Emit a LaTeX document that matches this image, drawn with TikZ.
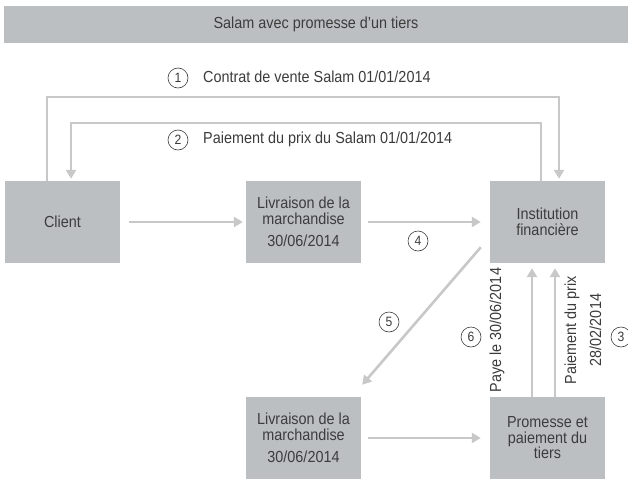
\documentclass[tikz,border=0pt]{standalone}
\usepackage{fontspec}
\setmainfont{Liberation Sans}[FakeStretch=0.9]
\usetikzlibrary{arrows.meta,calc}
\definecolor{boxgray}{RGB}{188,191,194}
\definecolor{arrgray}{RGB}{200,200,200}
\definecolor{txtgray}{RGB}{60,60,60}
\tikzset{
  box/.style={fill=boxgray, minimum width=115pt, minimum height=82pt, inner sep=0pt,
    align=center, text=txtgray, font=\fontsize{16}{15.5}\selectfont},
  arr/.style={draw=arrgray, line width=2.6pt, -{Triangle[length=9pt,width=10pt]}},
  num/.style={circle, draw=txtgray, line width=0.6pt, minimum size=20pt, inner sep=0pt,
    text=txtgray, font=\fontsize{13.5}{15}\selectfont},
  lbl/.style={text=txtgray, font=\fontsize{16}{16}\selectfont, inner sep=0pt},
}
\begin{document}
\begin{tikzpicture}[x=1pt,y=-1pt]
\useasboundingbox (0,0) rectangle (628,479);
\fill[white] (0,0) rectangle (628,479);
% title
\node[box, minimum width=624pt, minimum height=37pt, font=\fontsize{16}{16}\selectfont] (title) at (316,24.5) {Salam avec promesse d'un tiers};
% boxes
\node[box] (client) at (62.5,222) {Client};
\node[box] (liv1) at (303.5,222) {Livraison de la\\marchandise\\[7pt]30/06/2014};
\node[box] (inst) at (547.5,222) {Institution\\financière};
\node[box] (liv2) at (303.5,438) {Livraison de la\\marchandise\\[7pt]30/06/2014};
\node[box] (prom) at (547.5,438) {Promesse et\\paiement du\\tiers};
% corner coordinates
\coordinate (c1a) at (47,97);
\coordinate (c1b) at (559,97);
\coordinate (c2a) at (541,123);
\coordinate (c2b) at (71,123);
% arrows
\draw[arr] (client.north -| c1a) -- (c1a) -- (c1b) -- ([yshift=2pt]inst.north -| c1b);
\draw[arr] (inst.north -| c2a) -- (c2a) -- (c2b) -- ([yshift=2pt]client.north -| c2b);
\draw[arr] ([xshift=9pt]client.east) -- ([xshift=-3pt]liv1.west);
\draw[arr] ([xshift=7pt]liv1.east) -- ([xshift=-9pt]inst.west);
\draw[arr] ([xshift=-9pt,yshift=16pt]inst.south west) -- ([xshift=1pt,yshift=12pt]liv2.north east);
\draw[arr] ([xshift=7pt]liv2.east) -- ([xshift=-9pt]prom.west);
\draw[arr] ([xshift=-15.5pt]prom.north) -- ([xshift=-15.5pt,yshift=-5pt]inst.south);
\draw[arr] ([xshift=7.5pt]prom.north) -- ([xshift=7.5pt,yshift=-5pt]inst.south);
% numbers and labels
\node[num] (n1) at (178,78) {1};
\node[lbl, anchor=west] (l1) at (203,77) {Contrat de vente Salam 01/01/2014};
\node[num] (n2) at (178,140) {2};
\node[lbl, anchor=west] (l2) at (203,139) {Paiement du prix du Salam 01/01/2014};
\node[num] (n4) at (418,241) {4};
\node[num] (n5) at (389,322) {5};
\node[num] (n6) at (471,337) {6};
\node[num] (n3) at (621,337) {3};
\node[lbl, rotate=90] (l6) at (497,330) {Paye le 30/06/2014};
\node[lbl, rotate=90, align=center, font=\fontsize{16}{25}\selectfont] (l3) at (583,330) {Paiement du prix\\28/02/2014};
\end{tikzpicture}
\end{document}
